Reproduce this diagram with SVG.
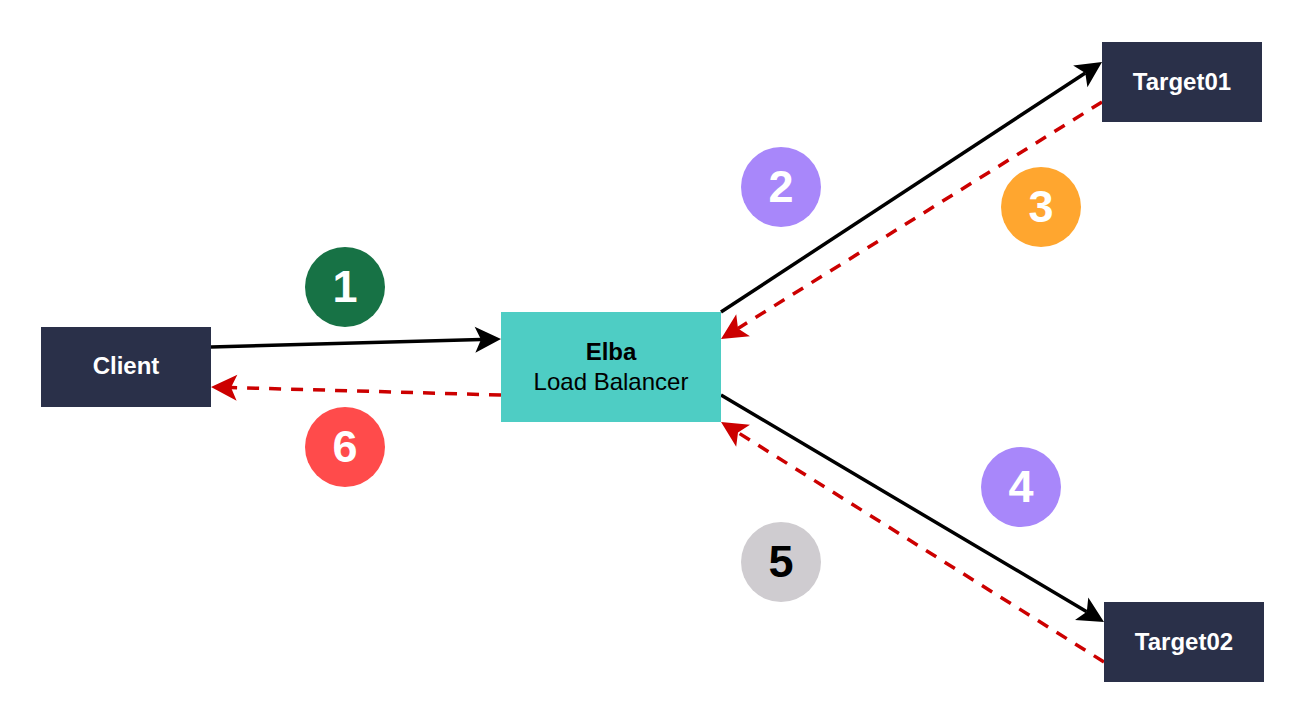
<svg xmlns="http://www.w3.org/2000/svg" width="1306" height="722" viewBox="0 0 1306 722">
<style>
.dark{fill:#2A3049}
.lbl{font-family:"Liberation Sans",Arial,sans-serif;font-size:24px;text-anchor:middle}
.w{fill:#FFFFFF;font-weight:bold}
.num{font-family:"Liberation Sans",Arial,sans-serif;font-size:45px;font-weight:bold;text-anchor:middle}
.solid{stroke:#000000;stroke-width:3.5;fill:none}
.dash{stroke:#CC0000;stroke-width:3.5;fill:none;stroke-dasharray:12 10}
</style>
<defs>
<marker id="ab" markerUnits="userSpaceOnUse" markerWidth="27" markerHeight="26" refX="6" refY="13" orient="auto" overflow="visible"><path d="M0,0 L26,13 L0,26 L6,13 Z" fill="#000000"/></marker>
<marker id="ar" markerUnits="userSpaceOnUse" markerWidth="27" markerHeight="26" refX="6" refY="13" orient="auto" overflow="visible"><path d="M0,0 L26,13 L0,26 L6,13 Z" fill="#CC0000"/></marker>
</defs>
<rect width="1306" height="722" fill="#FFFFFF"/>
<g id="connectors">
<line class="solid" x1="211" y1="347" x2="481" y2="339.5" marker-end="url(#ab)"/>
<line class="dash" x1="501" y1="395" x2="231" y2="387.5" marker-end="url(#ar)"/>
<line class="solid" x1="721" y1="312" x2="1085.3" y2="73" marker-end="url(#ab)"/>
<line class="dash" x1="1102" y1="102" x2="738" y2="328.4" marker-end="url(#ar)"/>
<line class="solid" x1="721" y1="395" x2="1086.8" y2="611.8" marker-end="url(#ab)"/>
<line class="dash" x1="1104" y1="662" x2="738" y2="432.6" marker-end="url(#ar)"/>
</g>
<g id="client"><rect class="dark" x="41" y="327" width="170" height="80"/><text class="lbl w" x="126" y="374">Client</text></g>
<g id="elba"><rect x="501" y="312" width="220" height="110" fill="#4ECDC4"/><text class="lbl" x="611" y="360" font-weight="bold">Elba</text><text class="lbl" x="611" y="390">Load Balancer</text></g>
<g id="target01"><rect class="dark" x="1102" y="42" width="160" height="80"/><text class="lbl w" x="1182" y="90">Target01</text></g>
<g id="target02"><rect class="dark" x="1104" y="602" width="160" height="80"/><text class="lbl w" x="1184" y="650">Target02</text></g>
<g id="step1"><circle cx="345" cy="287" r="40" fill="#177245"/><text class="num" x="345" y="302" fill="#FFFFFF">1</text></g>
<g id="step2"><circle cx="781" cy="187" r="40" fill="#A887FA"/><text class="num" x="781" y="202" fill="#FFFFFF">2</text></g>
<g id="step3"><circle cx="1041" cy="207" r="40" fill="#FFA62F"/><text class="num" x="1041" y="222" fill="#FFFFFF">3</text></g>
<g id="step4"><circle cx="1021" cy="487" r="40" fill="#A887FA"/><text class="num" x="1021" y="502" fill="#FFFFFF">4</text></g>
<g id="step5"><circle cx="781" cy="562" r="40" fill="#CFCCD0"/><text class="num" x="781" y="577" fill="#000000">5</text></g>
<g id="step6"><circle cx="345" cy="447" r="40" fill="#FF4B4B"/><text class="num" x="345" y="462" fill="#FFFFFF">6</text></g>
</svg>
